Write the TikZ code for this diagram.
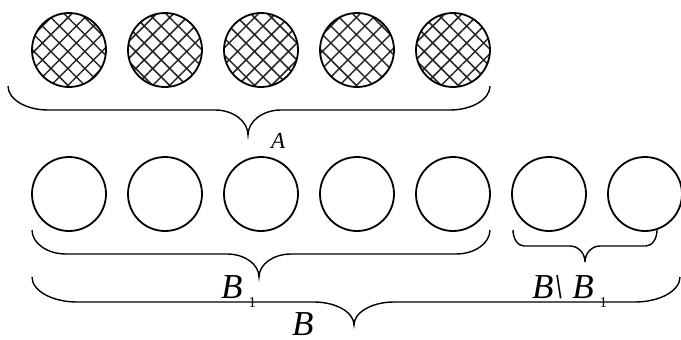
\documentclass[tikz,border=0pt]{standalone}
\usepackage{fontspec}
\setmainfont{Liberation Serif}
\usetikzlibrary{patterns.meta}

% horizontal curly brace: left x, right x, tip x, end y, line y, tip y, end bend, tip bend
\newcommand{\hbrace}[8]{%
  \draw[brace line] (#1,#4) .. controls (#1,{#4+0.552*(#5-#4)}) and ({#1+0.448*#7},#5) .. ({#1+#7},#5)
    -- ({#3-#8},#5) .. controls ({#3-0.448*#8},#5) and (#3,{#6-0.552*(#6-#5)}) .. (#3,#6)
    .. controls (#3,{#6-0.552*(#6-#5)}) and ({#3+0.448*#8},#5) .. ({#3+#8},#5)
    -- ({#2-#7},#5) .. controls ({#2-0.448*#7},#5) and (#2,{#4+0.552*(#5-#4)}) .. (#2,#4);}

\tikzset{
  ball/.style={circle, draw, line width=1.8pt, minimum size=74pt, inner sep=0pt},
  hatched/.style={ball, pattern={Hatch[angle=45, distance=12pt, line width=1.5pt]}, pattern color=black!85},
  brace line/.style={line width=1.4pt},
  setlabel/.style={anchor=base west, inner sep=0pt, font=\fontsize{35}{35}\selectfont\itshape},
}
\newcommand{\sub}[1]{\hspace{6pt}\raisebox{-9pt}{\upshape\fontsize{15}{15}\selectfont #1}}

\begin{document}
\begin{tikzpicture}[x=1pt, y=-1pt]
  \useasboundingbox (0,0) rectangle (681,340);
  \def\step{96}

  % top row: the set A
  \foreach \i in {1,...,5}
    \node[hatched] (a\i) at ({69+(\i-1)*\step}, 50) {};
  \hbrace{8}{490}{248}{86}{110}{135}{40}{33}
  \node[setlabel, font=\fontsize{23}{23}\selectfont\itshape] (labA) at (271,148) {A};

  % bottom row: the set B
  \foreach \i in {1,...,7}
    \node[ball] (b\i) at ({69+(\i-1)*\step}, 194) {};

  % B_1 and its complement in B
  \hbrace{32}{490}{259}{230}{254}{277}{34}{32}
  \hbrace{513}{657}{585}{230}{246}{262}{11}{15}
  \node[setlabel] (labBone) at (221,298) {B\sub{1}};
  \node[setlabel] (labBdiff) at (532,298) {B\textbackslash\hspace{9pt}B\sub{1}};

  % all of B
  \hbrace{32}{680}{354}{277}{302}{325}{45}{40}
  \node[setlabel] (labB) at (292,335) {B};
\end{tikzpicture}
\end{document}
